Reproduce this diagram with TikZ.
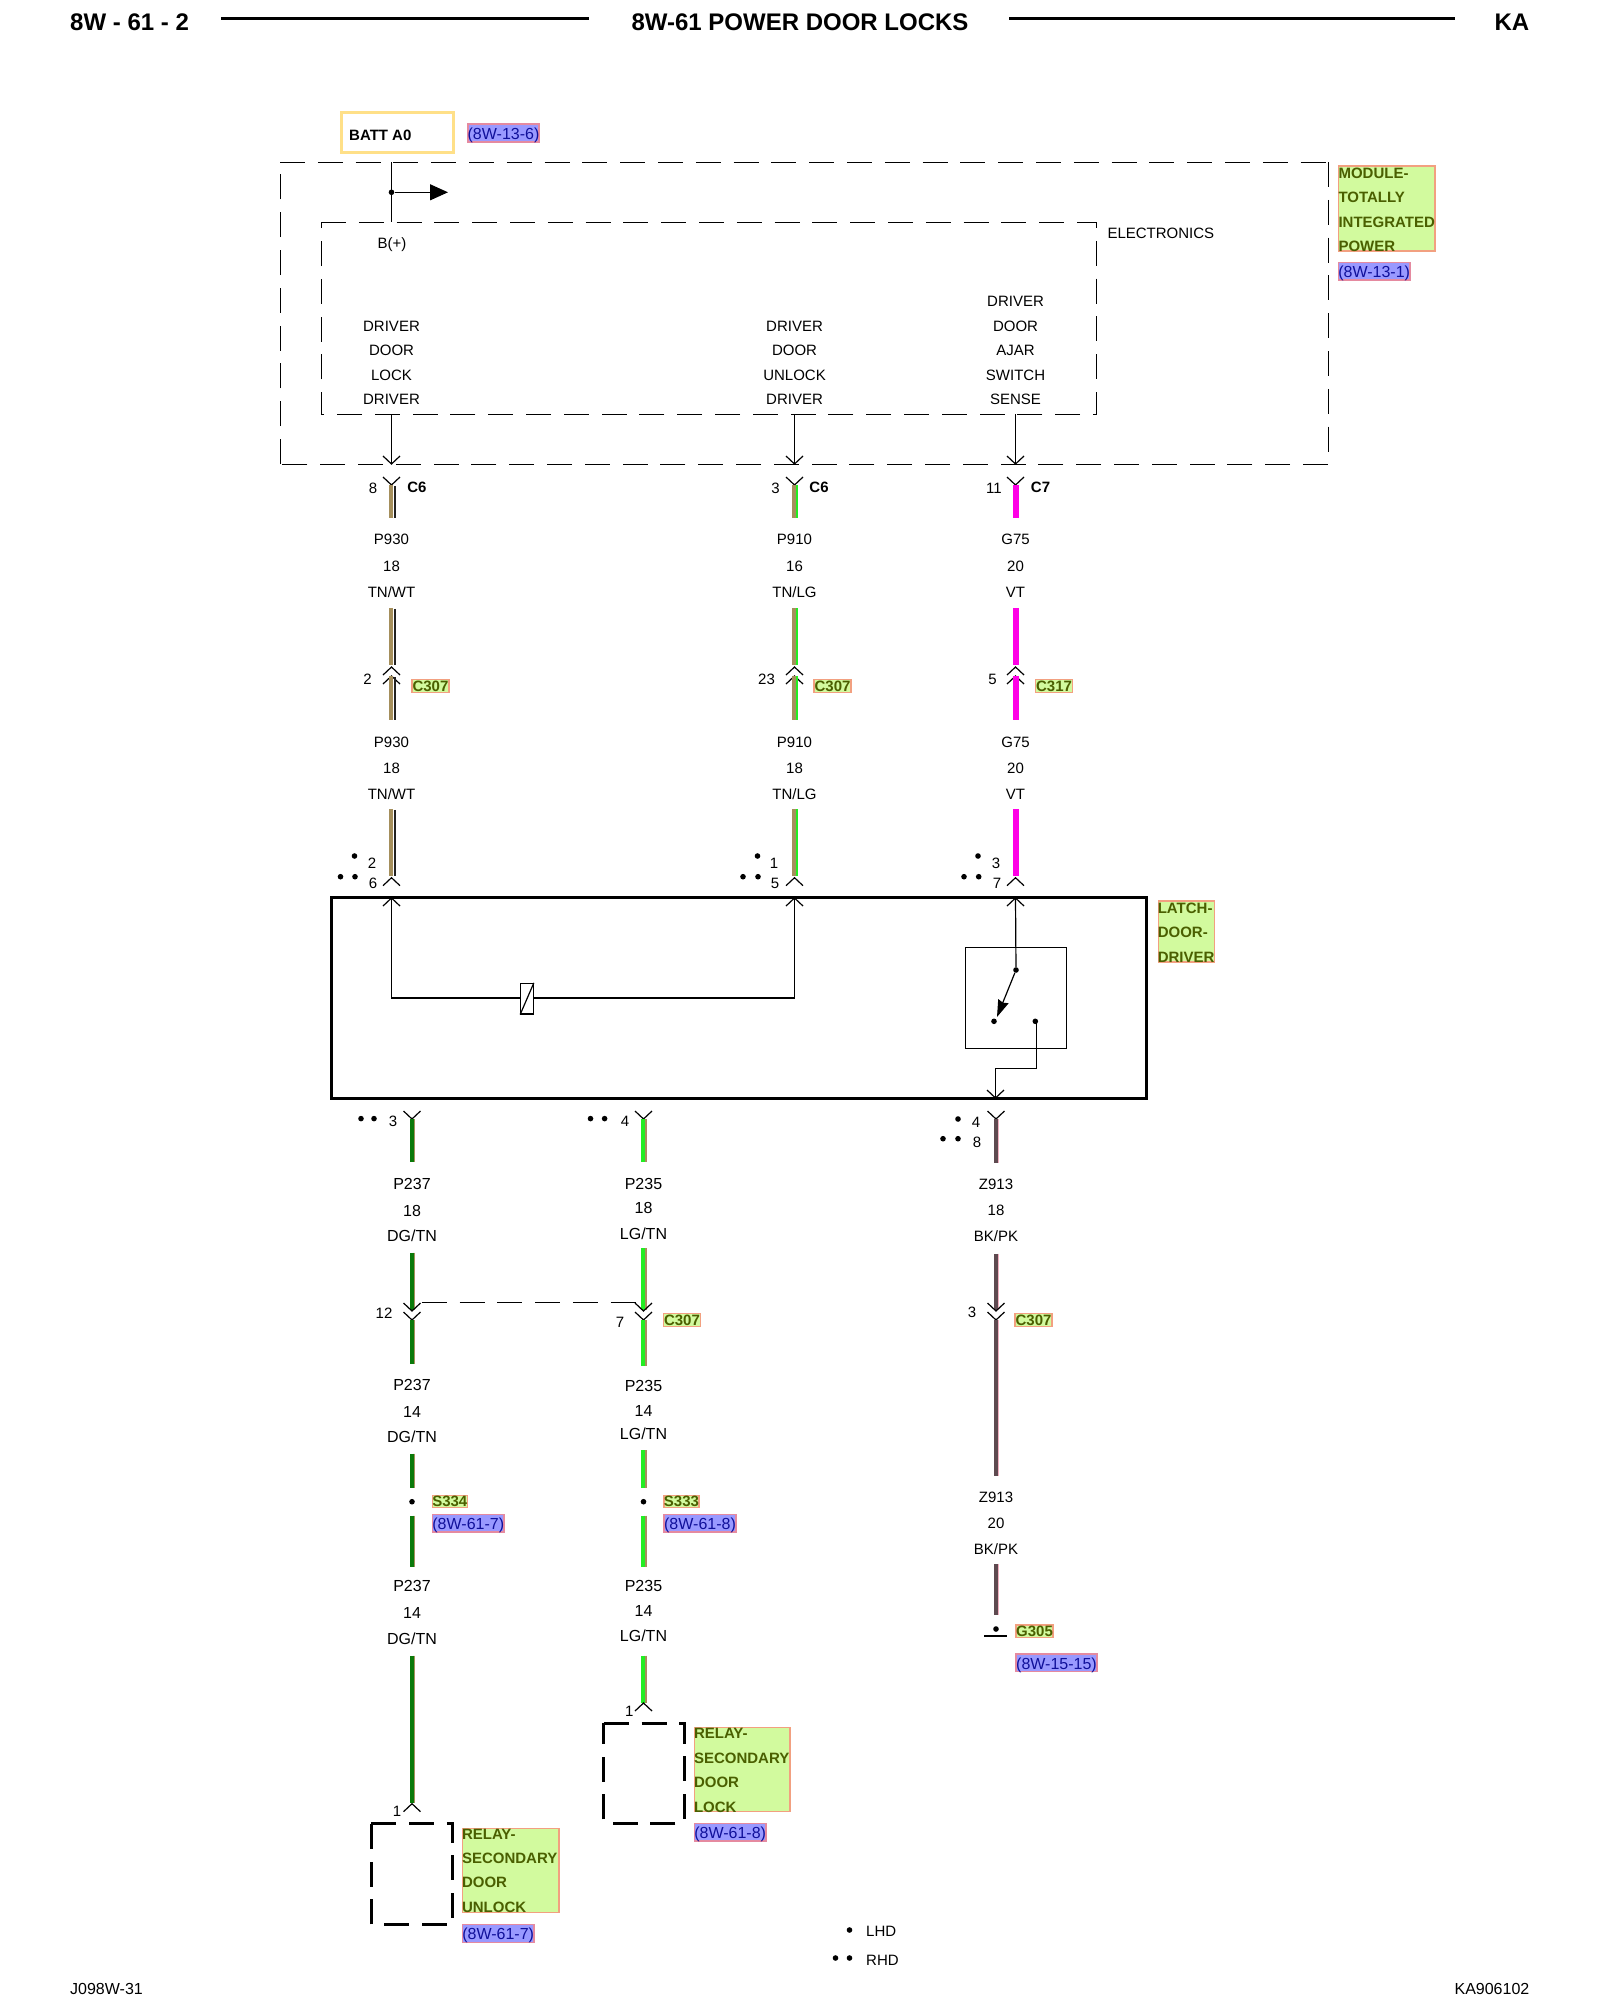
\documentclass[tikz,border=0pt]{standalone}
\usepackage{fontspec}
\setmainfont{Liberation Sans}
\usetikzlibrary{arrows.meta}
\definecolor{tan}{HTML}{A58F5C}
\definecolor{blk}{HTML}{222222}
\definecolor{lgr}{HTML}{22EE22}
\definecolor{dgr}{HTML}{0A7A0A}
\definecolor{mag}{HTML}{FF00E6}
\definecolor{bkd}{HTML}{5E4A50}
\definecolor{pnk}{HTML}{F0B0C0}
\definecolor{tagfill}{HTML}{D2FA9E}
\definecolor{tagline}{HTML}{F2A080}
\definecolor{tagtext}{HTML}{4A5F00}
\definecolor{reffill}{HTML}{9999FF}
\definecolor{refline}{HTML}{E58AA0}
\definecolor{reftext}{HTML}{10109A}
\definecolor{battline}{HTML}{FFE088}
\newcounter{lb}
\newcommand\fnt{\fontsize{15}{18}\selectfont}
\newcommand\fntB{\fontsize{16}{18}\selectfont}
\tikzset{
  conn/.style={line width=1.2pt,black},
  dashthin/.style={line width=0.95pt,black,dash pattern=on 25pt off 12.8pt},
  dashthick/.style={line width=3pt,black,dash pattern=on 25pt off 12.8pt},
  lbl/.style={inner sep=0pt,font=\fnt,text=black},
  lblB/.style={inner sep=0pt,font=\fntB,text=black},
  lblb/.style={inner sep=0pt,font=\fnt\bfseries,text=black},
  gtxt/.style={inner sep=0pt,font=\fnt\bfseries,text=tagtext},
  rtxt/.style={inner sep=0pt,font=\fontsize{16}{18}\selectfont,text=reftext},
  gbg/.style={fill=tagfill,draw=tagline,line width=1.5pt},
  rbg/.style={fill=reffill,draw=refline,line width=1.5pt},
  head/.style={inner sep=0pt,font=\fontsize{24}{28}\selectfont\bfseries,text=black},
  junc/.style={circle,fill=black,inner sep=0pt,minimum size=5.6pt}
}
% centred / left / right labels, y is the middle of the capitals
\newcommand\lab[3]{\stepcounter{lb}\node[lbl,anchor=base,yshift=-5.4pt] (lb\arabic{lb}) at (#1,#2) {#3};}
\newcommand\labB[3]{\stepcounter{lb}\node[lblB,anchor=base,yshift=-5.7pt] (lb\arabic{lb}) at (#1,#2) {#3};}
\newcommand\labl[3]{\stepcounter{lb}\node[lbl,anchor=base west,yshift=-5.4pt] (lb\arabic{lb}) at (#1,#2) {#3};}
\newcommand\labb[3]{\stepcounter{lb}\node[lblb,anchor=base,yshift=-5.4pt] (lb\arabic{lb}) at (#1,#2) {#3};}
\newcommand\wirelabels[7]{\lab{#1}{#2}{#3}\lab{#1}{#4}{#5}\lab{#1}{#6}{#7}}
\newcommand\wirelabelsB[7]{\labB{#1}{#2}{#3}\labB{#1}{#4}{#5}\labB{#1}{#6}{#7}}
% junction dot
\newcommand\dotat[2]{\stepcounter{lb}\node[junc] (lb\arabic{lb}) at (#1,#2) {};}
% two-tone wire: name,x,y1,y2,colourA,colourB,widthB
\newcommand\wire[7]{%
  \coordinate (#1a) at (#2,#3); \coordinate (#1b) at (#2,#4);
  \draw[line width=4.2pt,#5] ([xshift=-0.3pt]#1a) -- ([xshift=-0.3pt]#1b);
  \draw[line width=#7pt,#6] ([xshift=1.8+#7/2]#1a) -- ([xshift=1.8+#7/2]#1b);}
% tan wire with a separate dark tracer: name,x,y1,y2
\newcommand\wireT[4]{%
  \coordinate (#1a) at (#2,#3); \coordinate (#1b) at (#2,#4);
  \draw[line width=4pt,tan] ([xshift=-0.4pt]#1a) -- ([xshift=-0.4pt]#1b);
  \draw[line width=1.9pt,blk] ([xshift=3.1pt,yshift=-0.8pt]#1a) -- ([xshift=3.1pt]#1b);}
% connector half: name,x,ytip,dir (1 = V, -1 = caret)
\newcommand\pin[4]{%
  \coordinate (#1) at (#2,#3);
  \draw[conn] (#2-8.5,#3-8*#4) -- (#1) -- (#2+8.5,#3-8*#4);}
% tags
\newcommand\gtag[5]{\stepcounter{lb}\draw[gbg] (#1,#2) rectangle (#3,#4);
  \node[gtxt] (lb\arabic{lb}) at ({(#1+#3)/2},{(#2+#4)/2}) {#5};}
\newcommand\gsmall[3]{\gtag{#1-18.5}{#2-6.5}{#1+18.5}{#2+6.5}{#3}}
\newcommand\rtag[5]{\stepcounter{lb}\draw[rbg] (#1,#2) rectangle (#3,#4);
  \node[rtxt,yshift=-2.2pt] (lb\arabic{lb}) at ({(#1+#3)/2},{(#2+#4)/2}) {#5};}
\newcommand\gline[3]{\stepcounter{lb}\node[gtxt,anchor=base west,yshift=-5.4pt] (lb\arabic{lb}) at (#1,#2) {#3};}
\begin{document}
\begin{tikzpicture}[x=1pt,y=-1pt]
\fill[white] (0,0) rectangle (1600,2000);
\useasboundingbox (0,0) rectangle (1600,2000);

% ---- header and footer
\node[head,anchor=base west,yshift=-8.6pt] (hl) at (70,22.3) {8W - 61 - 2};
\node[head,anchor=base,yshift=-8.6pt] (hc) at (800,22.3) {8W-61 POWER DOOR LOCKS};
\node[head,anchor=base east,yshift=-8.6pt] (hr) at (1529.5,22.3) {KA};
\coordinate (ru1a) at (221,18.5); \coordinate (ru1b) at (589,18.5);
\coordinate (ru2a) at (1009,18.5); \coordinate (ru2b) at (1455,18.5);
\draw[line width=3.6pt] (ru1a) -- (ru1b);
\draw[line width=3.6pt] (ru2a) -- (ru2b);
\node[lblB,anchor=base west,yshift=-5.7pt] (footl) at (70,1988.5) {J098W-31};
\node[lblB,anchor=base east,yshift=-5.7pt] (footr) at (1529.5,1988.5) {KA906102};

% ---- battery feed
\node[draw=battline,line width=3pt,fill=white,minimum width=112pt,minimum height=40pt,inner sep=0pt] (batt) at (397,132) {};
\stepcounter{lb}\node[lblb,anchor=base west,yshift=-5.4pt] (battt) at (349,135) {BATT A0};
\rtag{468}{124}{539}{142}{(8W-13-6)}

% ---- module boxes
\coordinate (oTL) at (280,162); \coordinate (oTR) at (1328,162);
\coordinate (oBR) at (1328,464); \coordinate (oBL) at (280,464);
\draw[dashthin] (oTL) -- (oTR);
\draw[dashthin] (oTR) -- (oBR);
\draw[dashthin] (oBR) -- (oBL);
\draw[dashthin] (oBL) -- (oTL);
\coordinate (iTL) at (321,222); \coordinate (iTR) at (1096,222);
\coordinate (iBR) at (1096,414); \coordinate (iBL) at (321,414);
\draw[dashthin] (iTL) -- (iTR) -- (iBR) -- (iBL) -- cycle;
\coordinate (feedT) at (391.5,162); \coordinate (feedB) at (391.5,222);
\draw[conn] (feedT) -- (feedB);
\node[junc] (feedJ) at (391.5,192.3) {};
\coordinate (feedArrow) at (448,192.3);
\draw[conn,-{Triangle[length=18pt,width=16pt]}] (feedJ) -- (feedArrow);
\lab{392}{243.3}{B(+)}
\labl{1107.3}{232.7}{ELECTRONICS}

\gtag{1338.3}{166}{1435}{251}{}
\gline{1338.3}{172.7}{MODULE-}
\gline{1338.3}{197}{TOTALLY}
\gline{1338.3}{221.7}{INTEGRATED}
\gline{1338.3}{245.7}{POWER}
\rtag{1338.3}{262.3}{1410}{280}{(8W-13-1)}

\lab{391.5}{325.7}{DRIVER}\lab{391.5}{349.7}{DOOR}\lab{391.5}{374.7}{LOCK}\lab{391.5}{398.7}{DRIVER}
\lab{794.5}{325.7}{DRIVER}\lab{794.5}{349.7}{DOOR}\lab{794.5}{374.7}{UNLOCK}\lab{794.5}{398.7}{DRIVER}
\lab{1015.5}{300.7}{DRIVER}\lab{1015.5}{325.7}{DOOR}\lab{1015.5}{350}{AJAR}\lab{1015.5}{374.7}{SWITCH}\lab{1015.5}{398.7}{SENSE}

% ---- outputs of module
\coordinate (oa) at (391.5,414); \pin{ob}{391.5}{464}{1}; \draw[conn] (oa) -- (ob);
\coordinate (pa) at (794.5,414); \pin{pb}{794.5}{464}{1}; \draw[conn] (pa) -- (pb);
\coordinate (qa) at (1015.5,414); \pin{qb}{1015.5}{464}{1}; \draw[conn] (qa) -- (qb);
\pin{c1}{391.5}{485}{1}\pin{c2}{794.5}{485}{1}\pin{c3}{1015.5}{485}{1}

\wireT{wa1}{391.5}{485}{518}
\wire{wb1}{794.5}{485}{518}{tan}{lgr}{2}
\wire{wc1}{1015.5}{485}{518}{mag}{mag}{2}
\lab{373}{488}{8}\labb{417}{487}{C6}
\lab{775.5}{488}{3}\labb{819}{487}{C6}
\lab{994}{488}{11}\labb{1040.5}{487}{C7}

\wirelabels{391.5}{539.5}{P930}{565.7}{18}{592.5}{TN/WT}
\wirelabels{794.5}{539.5}{P910}{565.7}{16}{592.5}{TN/LG}
\wirelabels{1015.5}{539.5}{G75}{565.7}{20}{592.5}{VT}

\wireT{wa2}{391.5}{608}{665}
\wire{wb2}{794.5}{608}{665}{tan}{lgr}{2}
\wire{wc2}{1015.5}{608}{665}{mag}{mag}{2}
\pin{d1}{391.5}{667}{-1}\pin{d2}{794.5}{667}{-1}\pin{d3}{1015.5}{667}{-1}
\pin{e1}{391.5}{676}{-1}\pin{e2}{794.5}{676}{-1}\pin{e3}{1015.5}{676}{-1}
\wireT{wa3}{391.5}{676}{720}
\wire{wb3}{794.5}{676}{720}{tan}{lgr}{2}
\wire{wc3}{1015.5}{676}{720}{mag}{mag}{2}
\lab{367.5}{679}{2}\gsmall{430.5}{686}{C307}
\lab{766.5}{679}{23}\gsmall{832.5}{686}{C307}
\lab{992.5}{679}{5}\gsmall{1054}{686}{C317}

\wirelabels{391.5}{741.7}{P930}{768}{18}{793.7}{TN/WT}
\wirelabels{794.5}{741.7}{P910}{768}{18}{793.7}{TN/LG}
\wirelabels{1015.5}{741.7}{G75}{768}{20}{793.7}{VT}

\wireT{wa4}{391.5}{809}{876}
\wire{wb4}{794.5}{809}{876}{tan}{lgr}{2}
\wire{wc4}{1015.5}{809}{876}{mag}{mag}{2}
\pin{f1}{391.5}{877.7}{-1}\pin{f2}{794.5}{877.7}{-1}\pin{f3}{1015.5}{877.7}{-1}
\dotat{354.5}{856}\dotat{340.5}{876.7}\dotat{355}{876.7}\lab{372}{863}{2}\lab{373}{883}{6}
\dotat{757.5}{856}\dotat{743}{876.7}\dotat{758}{876.7}\lab{774}{863}{1}\lab{775}{883}{5}
\dotat{978}{856}\dotat{964}{876.7}\dotat{978.7}{876.7}\lab{996}{862.7}{3}\lab{997}{882.7}{7}

% ---- latch
\node[draw,line width=3.5pt,minimum width=815.2pt,minimum height=201pt,inner sep=0pt] (latch) at (739.1,997.8) {};
\gtag{1158.3}{901}{1214.3}{962}{}
\gline{1157.6}{907.7}{LATCH-}
\gline{1157.6}{931.7}{DOOR-}
\gline{1157.6}{956.7}{DRIVER}

\pin{g1}{391.5}{898}{-1}\pin{g2}{794.5}{898}{-1}\pin{g3}{1015.5}{898}{-1}
\coordinate (h1) at (391.5,998); \coordinate (h2) at (794.5,998);
\draw[conn] (g1) -- (h1) -- (h2) -- (g2);
\node[draw,line width=1.2pt,fill=white,minimum width=12.5pt,minimum height=30.5pt,inner sep=0pt] (coil) at (527,998.7) {};
\draw[conn] (coil.south west) -- (coil.north east);

\node[draw,line width=1.2pt,minimum width=101.4pt,minimum height=101pt,inner sep=0pt] (swbox) at (1016,997.8) {};
\node[junc] (sw1) at (1016,970) {};
\node[junc] (sw2) at (994,1021.3) {};
\node[junc] (sw3) at (1035.3,1021.3) {};
\draw[conn] (g3) -- (sw1);
\coordinate (swtip) at (997,1017);
\draw[conn,-{Stealth[length=17pt,width=11pt,inset=1.5pt]}] (sw1) -- (swtip);
\coordinate (k1) at (1036.5,1068.3); \coordinate (k2) at (995.5,1068.3);
\pin{k3}{995.5}{1098}{1}
\draw[conn] (k1 |- sw3) -- (k1) -- (k2) -- (k3);

% ---- below latch
\pin{m1}{412}{1119}{1}\pin{m2}{643.5}{1119}{1}\pin{m3}{996}{1119}{1}
\wire{wd1}{412}{1119}{1162}{dgr}{tan}{1}
\wire{we1}{643.5}{1119}{1162}{lgr}{tan}{1.2}
\wire{wf1}{996}{1119}{1163}{bkd}{pnk}{1.2}
\dotat{361}{1118.6}\dotat{374}{1118.6}\lab{393}{1121}{3}
\dotat{590.5}{1118.6}\dotat{604.6}{1118.6}\lab{625}{1121}{4}
\dotat{958}{1119}\dotat{943}{1138.7}\dotat{958}{1138.7}\lab{976}{1122}{4}\lab{977}{1142}{8}

\wirelabelsB{412}{1184}{P237}{1210.5}{18}{1236}{DG/TN}
\wirelabelsB{643.5}{1184}{P235}{1208}{18}{1233.5}{LG/TN}
\wirelabels{996}{1184}{Z913}{1210}{18}{1236}{BK/PK}

\wire{wd2}{412}{1252.7}{1310}{dgr}{tan}{1}
\wire{we2}{643.5}{1248}{1310}{lgr}{tan}{1.2}
\wire{wf2}{996}{1253.8}{1310}{bkd}{pnk}{1.2}
\pin{n1}{412}{1311}{1}\pin{n2}{643.5}{1311}{1}\pin{n3}{996}{1311}{1}
\pin{o1}{412}{1320}{1}\pin{o2}{643.5}{1320}{1}\pin{o3}{996}{1320}{1}
\coordinate (twA) at (421.7,1302); \coordinate (twB) at (636,1302);
\draw[dashthin] (twA) -- (twB);
\wire{wd3}{412}{1320}{1364}{dgr}{tan}{1}
\wire{we3}{643.5}{1320}{1366}{lgr}{tan}{1.2}
\wire{wf3}{996}{1320}{1476}{bkd}{pnk}{1.2}
\lab{384}{1312.7}{12}\lab{620}{1322}{7}\gsmall{682}{1320}{C307}
\lab{972}{1312.5}{3}\gsmall{1033.5}{1320}{C307}

\wirelabelsB{412}{1385}{P237}{1411.7}{14}{1437}{DG/TN}
\wirelabelsB{643.5}{1385.7}{P235}{1410.7}{14}{1434}{LG/TN}

\wire{wd4}{412}{1453.7}{1488}{dgr}{tan}{1}
\wire{we4}{643.5}{1450}{1488}{lgr}{tan}{1.2}
\dotat{412}{1501.7}\dotat{643.5}{1501.7}
\wire{wd5}{412}{1515.7}{1566.7}{dgr}{tan}{1}
\wire{we5}{643.5}{1515.7}{1566.7}{lgr}{tan}{1.2}
\gtag{432.3}{1495.7}{467.3}{1507.3}{S334}
\rtag{432.5}{1514.3}{504}{1532}{(8W-61-7)}
\gtag{664}{1495.7}{699}{1507.3}{S333}
\rtag{664}{1514.3}{736}{1532}{(8W-61-8)}

\wirelabelsB{412}{1586}{P237}{1613}{14}{1639}{DG/TN}
\wirelabelsB{643.5}{1586}{P235}{1611}{14}{1636}{LG/TN}
\wirelabels{996}{1496.7}{Z913}{1522.7}{20}{1549}{BK/PK}

% ---- ground
\wire{wf4}{996}{1564}{1615}{bkd}{pnk}{1.2}
\dotat{996}{1629}
\coordinate (gnda) at (984,1636); \coordinate (gndb) at (1007,1636);
\draw[line width=2.6pt] (gnda) -- (gndb);
\gtag{1016}{1625}{1053}{1637.7}{G305}
\rtag{1016}{1654}{1097}{1671.7}{(8W-15-15)}

% ---- relays
\wire{wd6}{412}{1655.7}{1803.3}{dgr}{tan}{1}
\pin{r1}{412}{1803.7}{-1}
\lab{397}{1810.7}{1}
\coordinate (raTL) at (371.3,1823.3); \coordinate (raTR) at (452.7,1823.3);
\coordinate (raBR) at (452.7,1924.7); \coordinate (raBL) at (371.3,1924.7);
\draw[dashthick] (raTL) -- (raTR) -- (raBR) -- (raBL) -- cycle;
\gtag{462.3}{1828.3}{559}{1912.7}{}
\gline{461.8}{1834}{RELAY-}
\gline{461.8}{1857.7}{SECONDARY}
\gline{461.8}{1882.3}{DOOR}
\gline{461.8}{1906.7}{UNLOCK}
\rtag{462.3}{1924.3}{534}{1942.7}{(8W-61-7)}

\wire{we6}{643.5}{1655.7}{1702.7}{lgr}{tan}{1.2}
\pin{r2}{643.5}{1703}{-1}
\lab{629.3}{1710.7}{1}
\coordinate (rbTL) at (603.7,1723.3); \coordinate (rbTR) at (684,1723.3);
\coordinate (rbBR) at (684,1823.3); \coordinate (rbBL) at (603.7,1823.3);
\draw[dashthick] (rbTL) -- (rbTR) -- (rbBR) -- (rbBL) -- cycle;
\gtag{694.3}{1727.3}{790}{1811.7}{}
\gline{693.8}{1732.7}{RELAY-}
\gline{693.8}{1757.7}{SECONDARY}
\gline{693.8}{1782}{DOOR}
\gline{693.8}{1806.7}{LOCK}
\rtag{694.3}{1823.3}{766}{1841}{(8W-61-8)}

% ---- legend
\dotat{849.5}{1930}\labl{866}{1931.5}{LHD}
\dotat{835.5}{1958}\dotat{849.5}{1958}\labl{866}{1960}{RHD}
\end{tikzpicture}
\end{document}
